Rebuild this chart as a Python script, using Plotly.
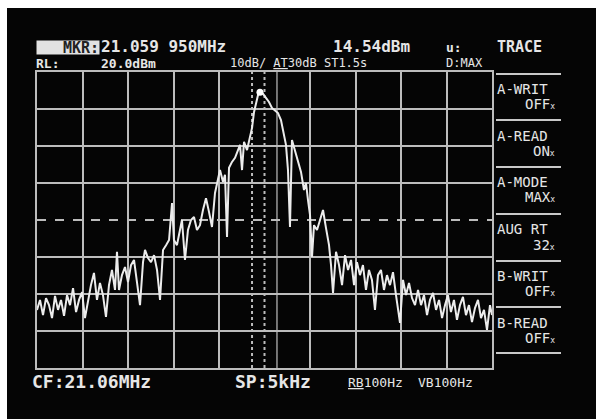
import plotly.graph_objects as go

# ---- data (frequency offset from CF in kHz, level in dBm) ----
freq_khz = [
    -2.500, -2.467, -2.434, -2.401, -2.368, -2.335, -2.302, -2.269, -2.236, -2.203,
    -2.170, -2.137, -2.104, -2.071, -2.038, -2.005, -1.973, -1.940, -1.907, -1.874,
    -1.841, -1.808, -1.775, -1.742, -1.709, -1.676, -1.643, -1.621, -1.599, -1.566,
    -1.533, -1.500, -1.467, -1.434, -1.401, -1.368, -1.335, -1.313, -1.280, -1.247,
    -1.214, -1.181, -1.148, -1.115, -1.082, -1.049, -1.016, -0.995, -0.962, -0.929,
    -0.907, -0.874, -0.841, -0.808, -0.775, -0.742, -0.709, -0.676, -0.643, -0.610,
    -0.577, -0.544, -0.511, -0.489, -0.456, -0.434, -0.412, -0.390, -0.357, -0.324,
    -0.291, -0.269, -0.247, -0.225, -0.192, -0.159, -0.137, -0.115, -0.093, -0.071,
    -0.050, -0.016, 0.016, 0.049, 0.082, 0.115, 0.148, 0.181, 0.203, 0.236,
    0.258, 0.280, 0.302, 0.335, 0.368, 0.401, 0.434, 0.456, 0.478, 0.500,
    0.522, 0.544, 0.577, 0.610, 0.643, 0.676, 0.709, 0.731, 0.753, 0.786,
    0.819, 0.852, 0.885, 0.918, 0.951, 0.984, 1.016, 1.049, 1.082, 1.115,
    1.148, 1.181, 1.214, 1.247, 1.280, 1.313, 1.346, 1.379, 1.412, 1.445,
    1.489, 1.522, 1.555, 1.588, 1.621, 1.654, 1.687, 1.720, 1.753, 1.786,
    1.819, 1.852, 1.885, 1.918, 1.951, 1.984, 2.016, 2.049, 2.082, 2.115,
    2.148, 2.181, 2.214, 2.247, 2.280, 2.313, 2.346, 2.379, 2.412, 2.445,
    2.478, 2.500,
]
level_dbm = [
    -44.3, -41.6, -45.7, -41.1, -43.0, -46.5, -40.5, -44.3, -41.6, -45.9,
    -40.3, -43.0, -38.4, -44.9, -41.6, -39.5, -46.5, -41.6, -37.6, -34.3,
    -41.6, -37.0, -40.3, -46.2, -37.6, -33.5, -38.9, -28.6, -38.9, -34.9,
    -32.7, -36.8, -32.2, -30.8, -37.6, -43.0, -31.4, -28.1, -30.3, -31.4,
    -29.5, -33.5, -41.6, -28.1, -26.8, -25.4, -15.4, -25.4, -26.8, -23.2,
    -20.0, -30.8, -22.7, -20.0, -19.2, -22.7, -21.4, -17.3, -14.1, -17.8,
    -21.9, -12.7, -9.2, -6.5, -9.7, -7.8, -24.6, -5.9, -4.3, -3.2,
    -1.1, 0.3, -6.5, 1.1, -1.1, 2.7, 4.9, 9.2, 11.9, 13.8,
    14.54, 14.1, 13.0, 11.9, 10.3, 9.7, 8.9, 7.0, 4.3, 0.3,
    -6.5, -21.9, 1.6, -1.1, -4.3, -7.0, -11.9, -10.0, -14.6, -18.6,
    -30.0, -21.4, -22.7, -20.0, -17.3, -22.2, -26.8, -32.2, -39.7, -28.6,
    -32.2, -37.6, -29.5, -33.5, -30.8, -37.6, -31.4, -34.9, -32.2, -38.9,
    -33.5, -36.2, -44.3, -34.9, -33.5, -38.9, -34.9, -37.6, -34.1, -40.3,
    -47.8, -36.2, -40.3, -37.0, -41.1, -43.0, -38.9, -43.0, -40.3, -45.7,
    -41.6, -39.7, -44.3, -41.6, -46.5, -43.0, -40.3, -44.9, -41.6, -47.0,
    -43.0, -40.8, -45.7, -43.0, -47.6, -43.8, -41.6, -46.5, -44.3, -49.7,
    -43.0, -45.7,
]
marker_khz = -0.050
marker_dbm = 14.54

x_ticks = [-2.5, -2.0, -1.5, -1.0, -0.5, 0.5, 1.0, 1.5, 2.0, 2.5]
y_ticks = [20, 10, 0, -10, -30, -40, -50, -60]

menu_labels = ["A-WRIT", "A-READ", "A-MODE", "AUG RT", "B-WRIT", "B-READ"]
menu_values = ["OFF", "ON", "MAX", "32", "OFF", "OFF"]

# ---- layout helpers (pixel -> paper) ----
W, H = 596, 419
def PX(x):
    return x / W
def PY(y):
    return 1 - y / H

GRID = "#bcbcbc"
TXT = "#e6e6e6"
MONO = "DejaVu Sans Mono"

fig = go.Figure()
fig.add_trace(go.Scatter(x=freq_khz, y=level_dbm, mode="lines",
                         line=dict(color="#ececec", width=2),
                         hoverinfo="skip", showlegend=False))
fig.add_trace(go.Scatter(x=[marker_khz], y=[marker_dbm], mode="markers",
                         marker=dict(color="#ffffff", size=7),
                         hoverinfo="skip", showlegend=False))

shapes = [
    dict(type="rect", xref="paper", yref="paper", x0=PX(7), x1=1, y0=0, y1=PY(8),
         fillcolor="#050505", line=dict(width=0), layer="below"),
    dict(type="line", xref="x", yref="y", x0=0, x1=0, y0=-60, y1=20,
         line=dict(color=GRID, width=2, dash="dot"), layer="below"),
    dict(type="line", xref="x", yref="y", x0=-0.137, x1=-0.137, y0=-60, y1=20,
         line=dict(color=GRID, width=2, dash="dot"), layer="below"),
    dict(type="line", xref="x", yref="y", x0=0.137, x1=0.137, y0=-60, y1=20,
         line=dict(color="#9a9a9a", width=1.5), layer="below"),
    dict(type="line", xref="x", yref="y", x0=-2.5, x1=2.5, y0=-20, y1=-20,
         line=dict(color=GRID, width=2, dash="dash"), layer="below"),
]
for yy in [74, 120, 167, 214, 261, 307, 353]:
    shapes.append(dict(type="line", xref="paper", yref="paper",
                       x0=PX(496), x1=PX(561), y0=PY(yy), y1=PY(yy),
                       line=dict(color="#c8c8c8", width=2)))

ann = []
def txt(s, x, y, size, bold=False, anchor="left", color=TXT, **kw):
    d = dict(text=("<b>%s</b>" % s) if bold else s, x=PX(x), y=PY(y),
             xref="paper", yref="paper", xanchor=anchor, yanchor="middle",
             showarrow=False, borderpad=0,
             font=dict(family=MONO, size=size, color=color))
    d.update(kw)
    ann.append(d)

txt("MKR:", 36, 47.5, 15, bold=True, color="#222222", bgcolor="#e2e2e2",
    width=62, height=13, align="right")
txt("21.059 950MHz", 100, 46.5, 16, bold=True)
txt("14.54dBm", 332, 46.5, 16, bold=True)
txt("u:", 445, 47, 13, bold=True)
txt("TRACE", 496, 47, 15, bold=True)
txt("RL:", 35, 63.5, 13, bold=True)
txt("20.0dBm", 100, 63.5, 13, bold=True)
txt("10dB/ <u>AT</u>30dB ST1.5s", 229, 63, 12)
txt("D:MAX", 445, 63, 12)
txt("CF:21.06MHz", 31, 381, 18, bold=True)
txt("SP:5kHz", 234, 381, 18, bold=True)
txt("<u>RB</u>100Hz", 347, 382, 13)
txt("VB100Hz", 417, 382, 13)

label_y = [89, 136, 182, 229, 276, 323]
value_y = [104, 151, 197, 245, 291, 338]
for lab, val, ly, vy in zip(menu_labels, menu_values, label_y, value_y):
    txt(lab, 496, ly, 14)
    txt(val + "<span style='font-size:8px'>x</span>", 556, vy, 14, anchor="right")

fig.update_layout(
    width=W, height=H,
    margin=dict(l=0, r=0, t=0, b=0),
    paper_bgcolor="#ffffff",
    plot_bgcolor="#050505",
    xaxis=dict(domain=[PX(37), PX(492)], range=[-2.5, 2.5], tickvals=x_ticks,
               showticklabels=False, ticks="", showgrid=True, gridcolor=GRID,
               gridwidth=2, zeroline=False, showline=True, mirror=True,
               linecolor=GRID, linewidth=2, fixedrange=True),
    yaxis=dict(domain=[PY(368), PY(72)], range=[-60, 20], tickvals=y_ticks,
               showticklabels=False, ticks="", showgrid=True, gridcolor=GRID,
               gridwidth=2, zeroline=False, showline=True, mirror=True,
               linecolor=GRID, linewidth=2, fixedrange=True),
    shapes=shapes,
    annotations=ann,
)

fig.write_html("out.html", config={"displayModeBar": False},
               post_script="document.body.style.margin='0';")
